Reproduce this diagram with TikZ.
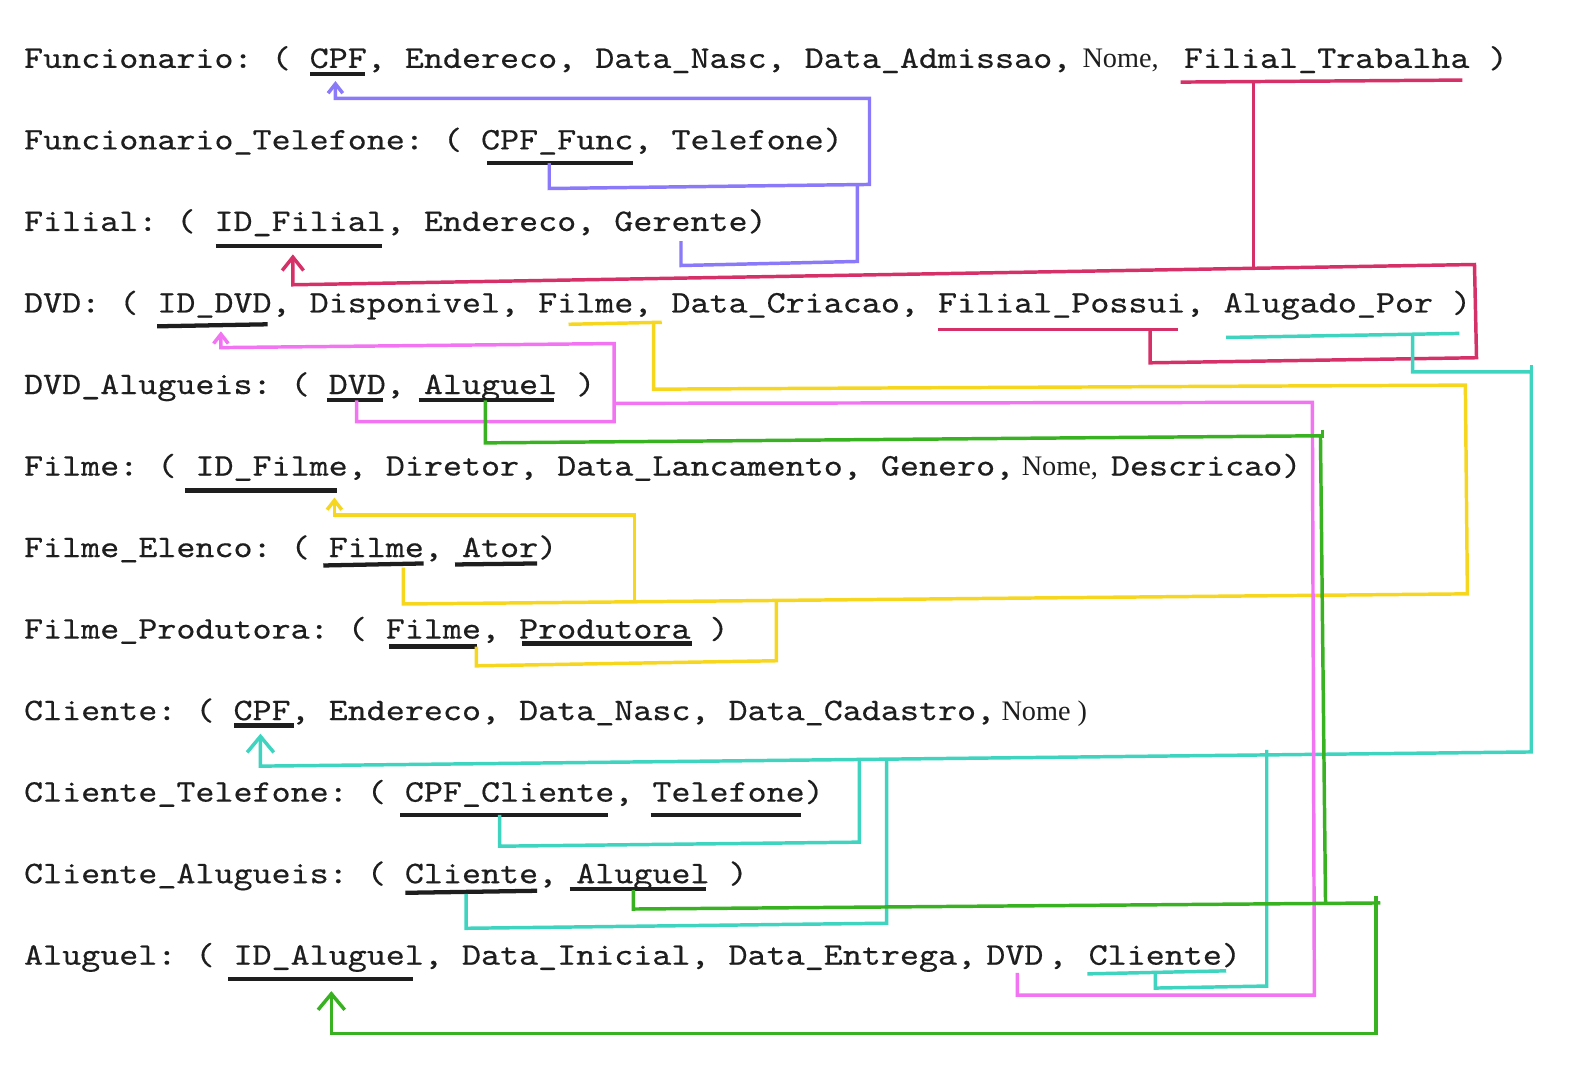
\documentclass[tikz,border=0pt]{standalone}
\usepackage{fontspec}
\setmonofont{lmmono10-regular.otf}[FakeStretch=1.155,FakeBold=0.4]
\newfontfamily\narrowfont{Liberation Serif}
\usetikzlibrary{arrows.meta}
\definecolor{cPur}{RGB}{138,122,250}
\definecolor{cCri}{RGB}{214,48,104}
\definecolor{cTea}{RGB}{62,212,192}
\definecolor{cYel}{RGB}{246,214,30}
\definecolor{cPnk}{RGB}{242,116,242}
\definecolor{cGrn}{RGB}{56,178,32}
\definecolor{cTxt}{RGB}{30,30,30}
\begin{document}
\begin{tikzpicture}[x=0.76004pt,y=-0.76004pt,
  txt/.style={anchor=base west, inner sep=0pt, text=cTxt,
    font=\fontsize{23.55pt}{28pt}\selectfont\ttfamily},
  nm/.style={anchor=base west, inner sep=0pt, text=cTxt,
    font=\fontsize{21.2pt}{26pt}\selectfont\narrowfont},
  ul/.style={line width=3.2pt, cTxt},
  lnk/.style={line width=2.6pt, line join=miter},
  pur/.style={lnk, cPur}, cri/.style={lnk, cCri}, tea/.style={lnk, cTea},
  yel/.style={lnk, cYel}, pnk/.style={lnk, cPnk}, grn/.style={lnk, cGrn},
  arrS/.style={-{Straight Barb[length=7pt,width=11pt]}},
  arrM/.style={-{Straight Barb[length=10pt,width=16pt]}},
  arrL/.style={-{Straight Barb[length=12pt,width=20pt]}}]
\useasboundingbox[fill=white] (0,0) rectangle (1568,1066);

% ---------- text lines ----------
\node[txt] (t1)  at (23.5,67)     {Funcionario: ( CPF, Endereco, Data\_Nasc, Data\_Admissao,};
\node[nm]  (t1n) at (1068,67)     {Nome,};
\node[txt] (t1b) at (1168,67)     {Filial\_Trabalha )};
\node[txt] (t2)  at (23.5,147.45) {Funcionario\_Telefone: ( CPF\_Func, Telefone)};
\node[txt] (t3)  at (23.5,227.9)  {Filial: ( ID\_Filial, Endereco, Gerente)};
\node[txt] (t4)  at (23.5,308.35) {DVD: ( ID\_DVD, Disponivel, Filme, Data\_Criacao, Filial\_Possui, Alugado\_Por )};
\node[txt] (t5)  at (23.5,388.8)  {DVD\_Alugueis: ( DVD, Aluguel )};
\node[txt] (t6)  at (23.5,469.25) {Filme: ( ID\_Filme, Diretor, Data\_Lancamento, Genero,};
\node[nm]  (t6n) at (1008,469.25) {Nome,};
\node[txt] (t6b) at (1096,469.25) {Descricao)};
\node[txt] (t7)  at (23.5,549.7)  {Filme\_Elenco: ( Filme, Ator)};
\node[txt] (t8)  at (23.5,630.15) {Filme\_Produtora: ( Filme, Produtora )};
\node[txt] (t9)  at (23.5,710.6)  {Cliente: ( CPF, Endereco, Data\_Nasc, Data\_Cadastro,};
\node[nm]  (t9n) at (988,710.6)   {Nome )};
\node[txt] (t10) at (23.5,791.05) {Cliente\_Telefone: ( CPF\_Cliente, Telefone)};
\node[txt] (t11) at (23.5,871.5)  {Cliente\_Alugueis: ( Cliente, Aluguel )};
\node[txt] (t12) at (23.5,951.95) {Aluguel: ( ID\_Aluguel, Data\_Inicial, Data\_Entrega,};
\node[txt] (t12d) at (973,951.95) {DVD};
\node[txt] (t12c) at (1034,951.95) {,};
\node[txt] (t12b) at (1074,951.95) {Cliente)};

% ---------- black key underlines ----------
\draw[ul] (306,73) -- (360,73);
\draw[ul] (481,161) -- (625,161);
\draw[ul] (213,243) -- (377,243);
\draw[ul] (155,322) -- (264,320);
\draw[ul] (323,395) -- (378,395);
\draw[ul] (413,395) -- (547,395);
\draw[ul] (183,484) -- (333,484);
\draw[ul] (319,558) -- (418,556);
\draw[ul] (449,557) -- (530,556);
\draw[ul] (384,638) -- (471,638);
\draw[ul] (515,635) -- (683,635);
\draw[ul] (231,716) -- (290,716);
\draw[ul] (395,804) -- (600,804);
\draw[ul] (642,804) -- (790,804);
\draw[ul] (400,881) -- (530,879);
\draw[ul] (562,877) -- (697,877);
\draw[ul] (225,966) -- (408,966);

% ---------- connector end points ----------
\coordinate (fCPF)     at (331,80);
\coordinate (ftCPF)    at (542,161);
\coordinate (gerente)  at (672,238);
\coordinate (idFilial) at (289,251);
\coordinate (fTrab)    at (1237,80);
\coordinate (fPossui)  at (1135,325);
\coordinate (alugPor)  at (1394,331);
\coordinate (cCPF)     at (257,724);
\coordinate (ctCPF)    at (493,804);
\coordinate (caCli)    at (460,882);
\coordinate (alCli)    at (1140,960);
\coordinate (dvdFilme) at (645,318);
\coordinate (idFilme)  at (330,491);
\coordinate (feFilme)  at (398,560);
\coordinate (fpFilme)  at (470,638);
\coordinate (idDVD)    at (218,327);
\coordinate (daDVD)    at (352,395);
\coordinate (alDVD)    at (1004,960);
\coordinate (daAlug)   at (479,395);
\coordinate (caAlug)   at (625,878);
\coordinate (idAlug)   at (327,978);

% ---------- purple ----------
\draw[pur, arrS] (ftCPF) -- (542,186) -- (858,182) -- (858,97) -- (331,97) -- (fCPF);
\draw[pur] (gerente) -- (672,262) -- (846,258) -- (846,182);

% ---------- crimson ----------
\draw[cri] (1165,81) -- (1443,79);
\draw[cri] (fTrab) -- (1237,264);
\draw[cri] (926,325) -- (1162,325);
\draw[cri, arrM] (fPossui) -- (1135,358) -- (1457,353) -- (1455,261) -- (289,281) -- (idFilial);

% ---------- teal ----------
\draw[tea] (1210,333) -- (1440,329);
\draw[tea, arrL] (alugPor) -- (1394,367) -- (1511,367) -- (1511,742) -- (257,756) -- (cCPF);
\draw[tea] (1511,367) -- (1511,360);
\draw[tea] (ctCPF) -- (493,835) -- (848,831) -- (848,750);
\draw[tea] (caCli) -- (460,916) -- (875,911) -- (875,749);
\draw[tea] (1073,961) -- (1210,958);
\draw[tea] (alCli) -- (1140,975) -- (1250,973) -- (1250,740);

% ---------- yellow ----------
\draw[yel] (561,320) -- (653,318);
\draw[yel] (dvdFilme) -- (645,384) -- (1446,380) -- (1448,586) -- (398,596) -- (feFilme);
\draw[yel, arrS] (626,595) -- (626,508) -- (330,508) -- (idFilme);
\draw[yel] (fpFilme) -- (470,657) -- (766,652) -- (766,594);

% ---------- pink ----------
\draw[pnk, arrS] (daDVD) -- (352,416) -- (606,416) -- (606,339) -- (218,343) -- (idDVD);
\draw[pnk] (alDVD) -- (1004,982) -- (1297,982) -- (1295,397) -- (606,398);

% ---------- green ----------
\draw[grn] (daAlug) -- (479,437) -- (1303,430) -- (1308,890);
\draw[grn] (1305,424) -- (1305,432);
\draw[grn] (caAlug) -- (625,897) -- (1362,891);
\draw[grn, arrL] (1358,884) -- (1358,1020) -- (327,1020) -- (idAlug);
\end{tikzpicture}
\end{document}
